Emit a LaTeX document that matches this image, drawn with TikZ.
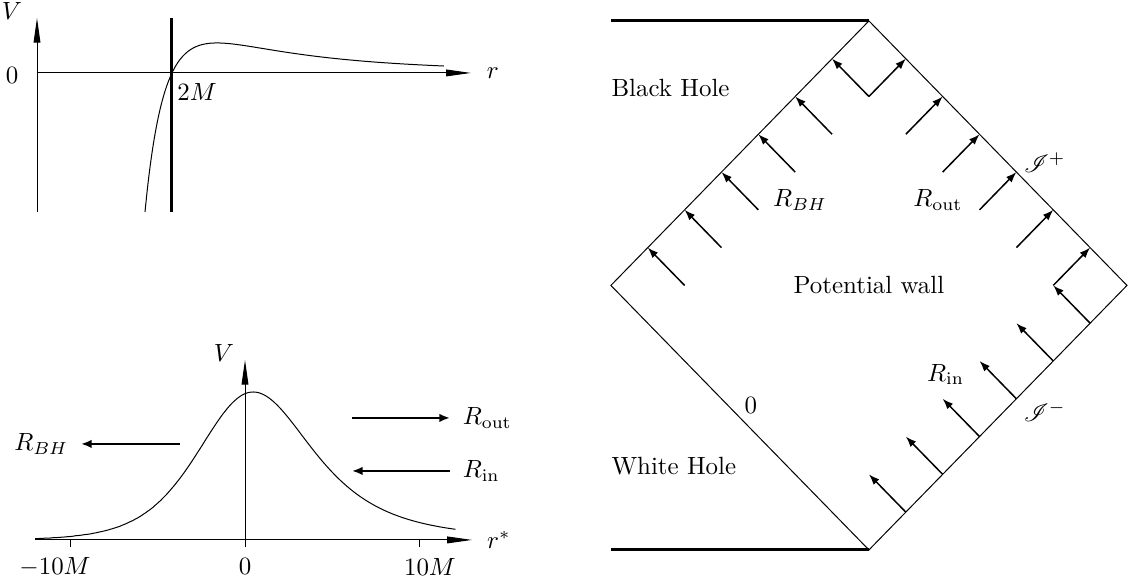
\documentclass[tikz,border=0pt]{standalone}
\usepackage{amsmath}
\usepackage{mathrsfs}
\usetikzlibrary{arrows.meta}

\begin{document}
\begin{tikzpicture}[
    axis/.style={-{Triangle[length=3.5mm,width=0.95mm]}},
    flux/.style={-{Latex[length=1.5mm,width=1.2mm]},line width=0.8pt},
    ray/.style={-{Latex[length=1.5mm,width=1.1mm]},line width=0.6pt},
    horizon/.style={line width=1.2pt},
    lbl/.style={inner xsep=5pt}
  ]
  \useasboundingbox (0,0) rectangle (16.01,8.293);

  % potential against r
  \begin{scope}[shift={(0.522,7.264)}]
    \draw[axis] (0,-1.961) -- (0,0.776);
    \draw[axis] (0,0) -- (6.121,0);
    \draw[horizon] (1.904,-1.961) -- (1.904,0.776);
    \draw[x=0.952cm] plot[domain=1.6:6.03,samples=120,smooth]
      (\x,{32.1*(1-2/\x)/\x^3});
    \node (Vtop) at (-0.353,0.87) {$V$};
    \node (zerotop) at (-0.353,-0.03) {$0$};
    \node (rtop) at (6.43,0) {$r$};
    \node (twoM) at (2.257,-0.268) {$2M$};
  \end{scope}

  % potential against r*
  \begin{scope}[shift={(3.456,0.677)}]
    \draw[axis] (-2.962,0) -- (3.202,0);
    \draw[axis] (0,-0.1) -- (0,2.539);
    \draw (-2.468,0) -- (-2.468,-0.1);
    \draw (2.468,0) -- (2.468,-0.1);
    \draw[x=0.2468cm] plot[domain=-7:1.31,samples=160,smooth,variable=\t]
      ({2+2*exp(\t)+2*\t},{158.3*(1-2/(2+2*exp(\t)))/(2+2*exp(\t))^3});
    \node (Vbot) at (-0.296,2.637) {$V$};
    \node (rstar) at (3.58,0) {$r^*$};
    \node (mten) at (-2.68,-0.381) {$-10M$};
    \node (zerobot) at (0,-0.381) {$0$};
    \node (pten) at (2.609,-0.381) {$10M$};
    \node[lbl,anchor=west] (Rout) at (2.891,1.721) {$R_{\mathrm{out}}$};
    \node[lbl,anchor=west] (Rin) at (2.891,0.973) {$R_{\mathrm{in}}$};
    \node[lbl,anchor=east] (RBH) at (-2.313,1.354) {$R_{BH}$};
    \coordinate (outtail) at (1.509,1.721);
    \coordinate (inhead) at (1.509,0.973);
    \coordinate (bhtail) at (-0.917,1.354);
    \draw[flux] (outtail) -- (Rout.west);
    \draw[flux] (Rin.west) -- (inhead);
    \draw[flux] (bhtail) -- (RBH.east);
  \end{scope}

  % Penrose diagram
  \begin{scope}[shift={(12.257,4.267)},x=0.52cm,y=0.533cm]
    \coordinate (top) at (0,7);
    \coordinate (left) at (-7,0);
    \coordinate (right) at (7,0);
    \coordinate (bot) at (0,-7);
    \draw (left) -- (top) -- (right) -- (bot) -- cycle;
    \draw[horizon] (-7,7) -- (top);
    \draw[horizon] (-7,-7) -- (bot);
    \foreach \i in {0,...,5} {
      \draw[ray] (-\i,5-\i) -- ++(-1,1);
      \draw[ray] (\i,5-\i) -- ++(1,1);
      \draw[ray] (6-\i,-1-\i) -- ++(-1,1);
    }
    \node[anchor=west] (BH) at (-7.22,5.22) {Black Hole};
    \node[anchor=west] (WH) at (-7.22,-4.78) {White Hole};
    \node (wall) at (0,0) {Potential wall};
    \node (pRBH) at (-1.87,2.26) {$R_{BH}$};
    \node (pRout) at (1.87,2.26) {$R_{\mathrm{out}}$};
    \node (pRin) at (2.08,-2.36) {$R_{\mathrm{in}}$};
    \node (scriplus) at (4.77,3.24) {$\mathscr{I}^+$};
    \node (scriminus) at (4.77,-3.35) {$\mathscr{I}^-$};
    \node (zeroP) at (-3.2,-3.19) {$0$};
  \end{scope}
\end{tikzpicture}
\end{document}
